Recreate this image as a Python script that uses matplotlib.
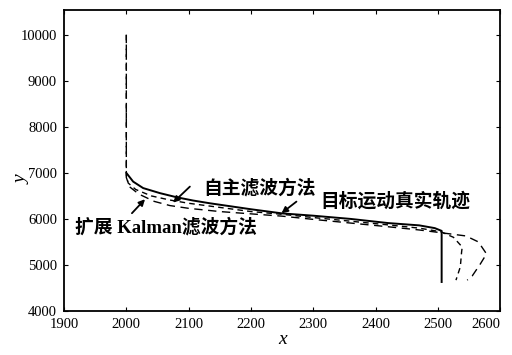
import matplotlib.pyplot as plt

plt.rcParams['font.family'] = ['Liberation Serif', 'Noto Sans CJK SC']
plt.rcParams['xtick.direction'] = 'in'
plt.rcParams['ytick.direction'] = 'in'

# true target track
true_x = [2000, 2011, 2027, 2054, 2081, 2107, 2134, 2200, 2250, 2300, 2360, 2420, 2470, 2495, 2506, 2506]
true_y = [7000, 6810, 6670, 6560, 6470, 6400, 6340, 6210, 6120, 6070, 6000, 5910, 5860, 5800, 5740, 4630]

# autonomous filter estimate
auto_x = [2000, 2000, 2003, 2015, 2040, 2070, 2100, 2150, 2200, 2250, 2300, 2360, 2420, 2470, 2505, 2525, 2539, 2538, 2536, 2529]
auto_y = [10000, 6950, 6780, 6640, 6500, 6410, 6340, 6250, 6160, 6100, 6030, 5950, 5870, 5800, 5720, 5600, 5390, 5280, 4960, 4670]

# extended Kalman filter estimate
ekf_x = [2000, 2000, 2005, 2020, 2045, 2070, 2100, 2150, 2200, 2250, 2300, 2360, 2420, 2470, 2505, 2545, 2565, 2578, 2568, 2555, 2547]
ekf_y = [10000, 6900, 6700, 6540, 6380, 6290, 6230, 6160, 6110, 6060, 5990, 5910, 5830, 5760, 5700, 5630, 5500, 5240, 5020, 4760, 4670]

xticks = [1900, 2000, 2100, 2200, 2300, 2400, 2500, 2600]
yticks = [4000, 5000, 6000, 7000, 8000, 9000, 10000]

fig = plt.figure(figsize=(5.12, 3.55), dpi=100)
ax = fig.add_axes([0.125, 0.124, 0.852, 0.848])

ax.plot(ekf_x, ekf_y, color='black', lw=1.0, dashes=(6, 4))
ax.plot(auto_x, auto_y, color='black', lw=1.0, dashes=(4, 3))
ax.plot(true_x, true_y, color='black', lw=1.4)

ax.set_xlim(1900, 2600)
ax.set_ylim(4000, 10540)
ax.set_xticks(xticks)
ax.set_yticks(yticks)
ax.tick_params(labelsize=10.5, length=3, top=True, right=True, pad=5)
ax.get_xticklabels()[-1].set_horizontalalignment('right')
for s in ax.spines.values():
    s.set_linewidth(1.3)

ax.set_xlabel('x', fontsize=14, style='italic', labelpad=0)
fig.text(22 / 512, 1 - 180 / 355, 'y', fontsize=14, style='italic',
         rotation=90, ha='center', va='center')

txt = dict(fontsize=13.5, fontweight='bold', va='center')
ax.text(2123, 6674, '自主滤波方法', ha='left', **txt)
ax.text(2311, 6391, '目标运动真实轨迹', ha='left', **txt)
ax.text(2064, 5826, '扩展 Kalman滤波方法', ha='center', **txt)

arrow = dict(arrowstyle='-|>', color='black', lw=1.3, mutation_scale=9,
             shrinkA=0, shrinkB=0)
ax.annotate('', xy=(2075, 6354), xytext=(2102, 6702), arrowprops=arrow)
ax.annotate('', xy=(2249, 6124), xytext=(2273, 6376), arrowprops=arrow)
ax.annotate('', xy=(2030, 6428), xytext=(2009, 6124), arrowprops=arrow)

fig.savefig('out.png', dpi=100)
